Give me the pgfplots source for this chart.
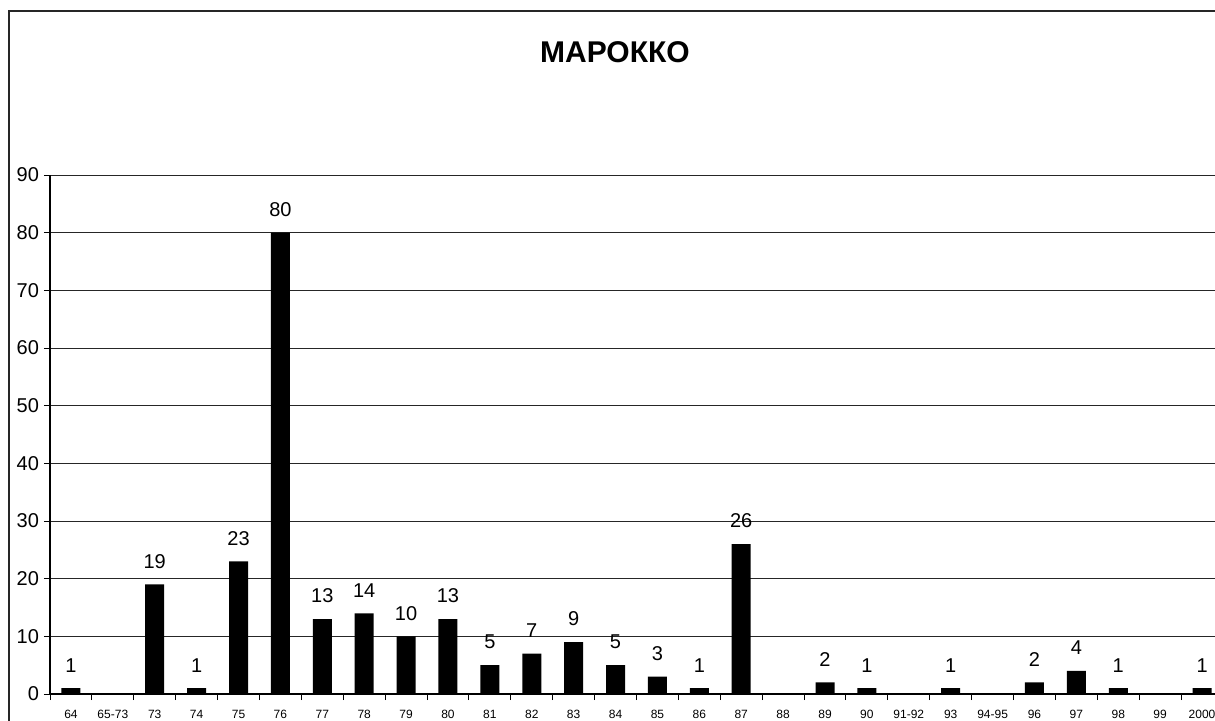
\documentclass[border=0pt]{standalone}
\usepackage{pgfplots}
\pgfplotsset{compat=1.18}
\usepackage{pgfplotstable}
\usepackage{fontspec}
\setmainfont{Liberation Sans}

% year groups and counts
\pgfplotstableread{
x y
0 1
1 0
2 19
3 1
4 23
5 80
6 13
7 14
8 10
9 13
10 5
11 7
12 9
13 5
14 3
15 1
16 26
17 0
18 2
19 1
20 0
21 1
22 0
23 2
24 4
25 1
26 0
27 1
}\morocco

\begin{document}
\begin{tikzpicture}[x=1pt,y=1pt]
\useasboundingbox (-25,-13) rectangle (582.5,347);
\clip (-25,-13) rectangle (582.5,347);
\draw[line width=0.8pt, black!85] (-20.5,341.5) rectangle (640,-60);
\node[font=\fontsize{15}{18}\selectfont\bfseries] at (282.5,321) {МАРОККО};
\begin{axis}[
    at={(0,0)}, anchor=south west,
    scale only axis,
    width=586.5pt, height=259.5pt,
    xmin=-0.5, xmax=27.5,
    ymin=0, ymax=90,
    axis lines=left,
    axis line style={-, black, line width=0.6pt},
    ytick={0,10,...,90},
    ymajorgrids,
    major grid style={black!85, line width=0.5pt},
    tick align=outside,
    major tick length=3pt,
    tick style={black, line width=0.5pt},
    xtick={0,...,27},
    xticklabels={64,65-73,73,74,75,76,77,78,79,80,81,82,83,84,85,86,87,88,89,90,91-92,93,94-95,96,97,98,99,2000},
    x tick style={draw=none},
    minor xtick={-0.5,0.5,...,27.5},
    minor x tick style={draw=black, line width=0.5pt},
    minor tick length=3pt,
    xticklabel style={font=\fontsize{6}{7}\selectfont, yshift=-1.6pt},
    yticklabel style={font=\fontsize{10}{12}\selectfont, xshift=1pt},
    /pgf/number format/assume math mode=true,
    clip=false,
]
\addplot[ybar, bar width=9.5pt, fill=black, draw=none,
    visualization depends on={rawy \as \rawy},
    nodes near coords={\ifdim\rawy pt>0pt \pgfmathprintnumber{\rawy}\fi},
    nodes near coords style={font=\fontsize{10}{12}\selectfont, yshift=4.5pt},
] table {\morocco};
\end{axis}
\end{tikzpicture}
\end{document}
